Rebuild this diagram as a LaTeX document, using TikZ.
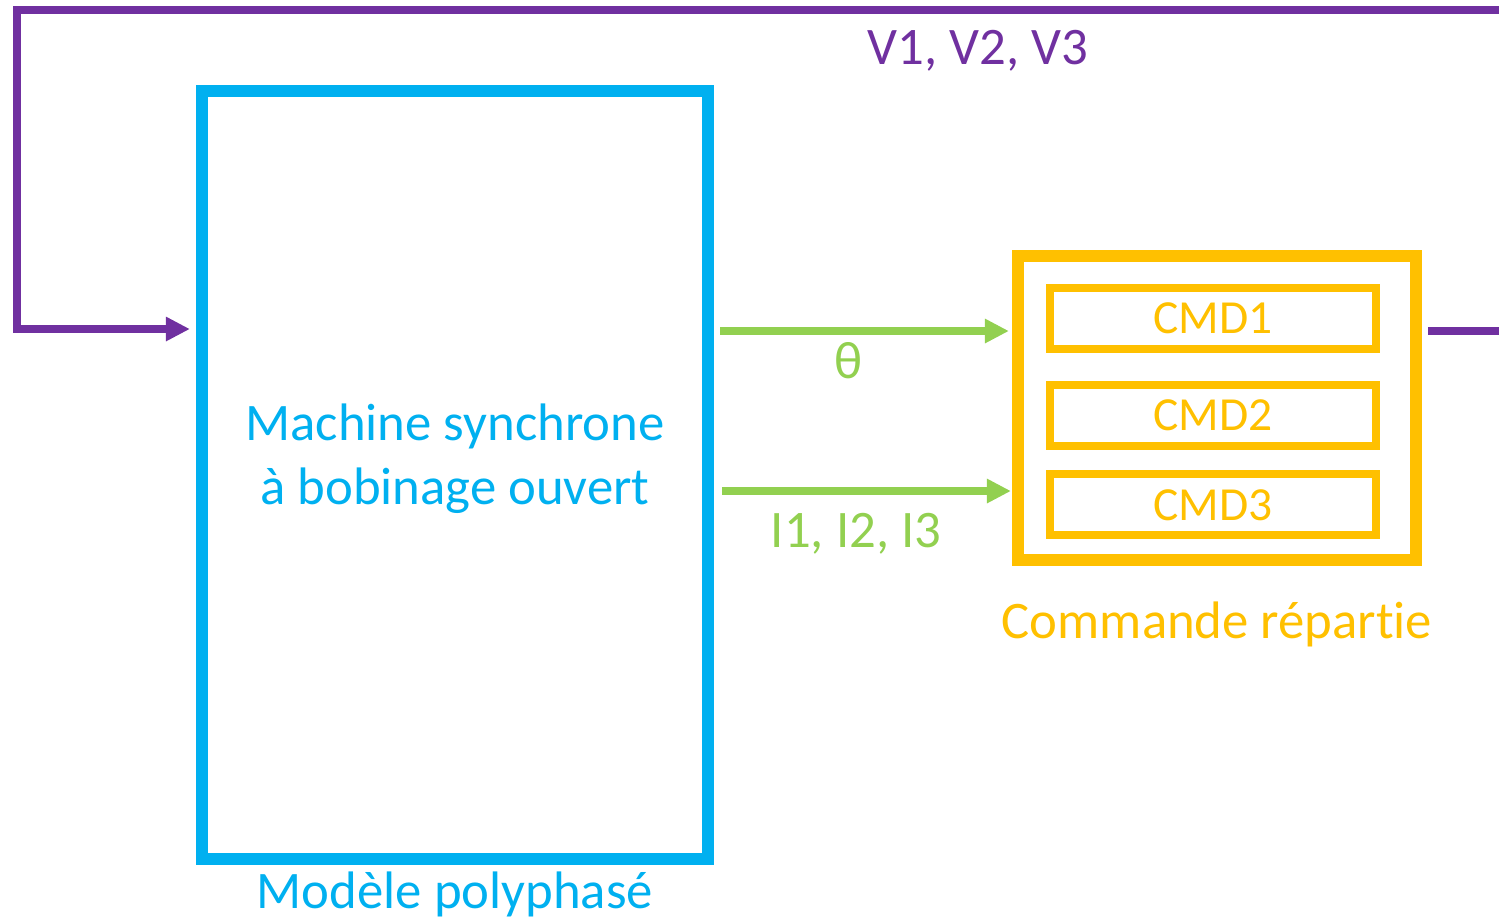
\documentclass[tikz,border=0pt]{standalone}
\usepackage{fontspec}
\setmainfont{Carlito}[Ligatures=NoCommon]
\usetikzlibrary{arrows.meta,positioning,calc}
\definecolor{fbpurple}{HTML}{7030A0}
\definecolor{msblue}{HTML}{00B0F0}
\definecolor{siggreen}{HTML}{92D050}
\definecolor{cmdorange}{HTML}{FFC000}

\begin{document}
\begin{tikzpicture}[x=0.01cm, y=-0.01cm,
		bigbox/.style={draw, line width=3.4pt, minimum width=#1},
		cmdbox/.style={draw=cmdorange, line width=2.3pt, minimum width=3.26cm, minimum height=0.61cm, text=cmdorange, font=\fontsize{13.5}{15}\selectfont},
		sig/.style={siggreen, line width=2.3pt, -{Triangle[length=0.24cm, width=0.23cm]}},
		fb/.style={fbpurple, line width=2.3pt},
		lbl/.style={font=\fontsize{15}{18.2}\selectfont, inner sep=0pt}]
		\useasboundingbox (0,0) rectangle (1499,923);
		% machine
		\node[bigbox=5.06cm, draw=msblue, minimum height=7.68cm] (msa) at (455,475) {};
		\node[lbl, text=msblue, align=center] (msatxt) at (455,459) {Machine synchrone\\à bobinage ouvert};
		\node[lbl, text=msblue, below=0.06cm of msa] (msalbl) {Modèle polyphasé};
		% commande
		\node[bigbox=3.98cm, draw=cmdorange, minimum height=3.04cm] (cmd) at (1217,408) {};
		\node[cmdbox] (cmd1) at (1213,318.5) {CMD1};
		\node[cmdbox, below=0.28cm of cmd1] (cmd2) {CMD2};
		\node[cmdbox, below=0.20cm of cmd2] (cmd3) {CMD3};
		\node[lbl, text=cmdorange, below=0.35cm of cmd] (cmdlbl) {Commande répartie};
		% signaux
		\coordinate (th) at (0,331);
		\coordinate (ii) at (0,491);
		\draw[sig, shorten <=0.06cm, shorten >=0.03cm] (msa.east |- th) -- (cmd.west |- th);
		\draw[sig, shorten <=0.08cm, shorten >=0.01cm] (msa.east |- ii) -- (cmd.west |- ii);
		\node[lbl, text=siggreen] (thlbl) at (849,361) {θ};
		\node[lbl, text=siggreen] (ilbl) at (856,534) {I1, I2, I3};
		% retour
		\coordinate (vR) at (1499,10);
		\coordinate (vL) at (17,10);
		\coordinate (sR) at (1499,331);
		\draw[fb, -{Triangle[length=0.24cm, width=0.23cm]}, shorten >=0.06cm] (vR) -- (vL) |- (msa.west |- 0,329);
		\draw[fb, shorten <=0.06cm] (cmd.east |- sR) -- (sR);
		\node[lbl, text=fbpurple] (vlbl) at (978,51) {V1, V2, V3};
	\end{tikzpicture}
\end{document}
